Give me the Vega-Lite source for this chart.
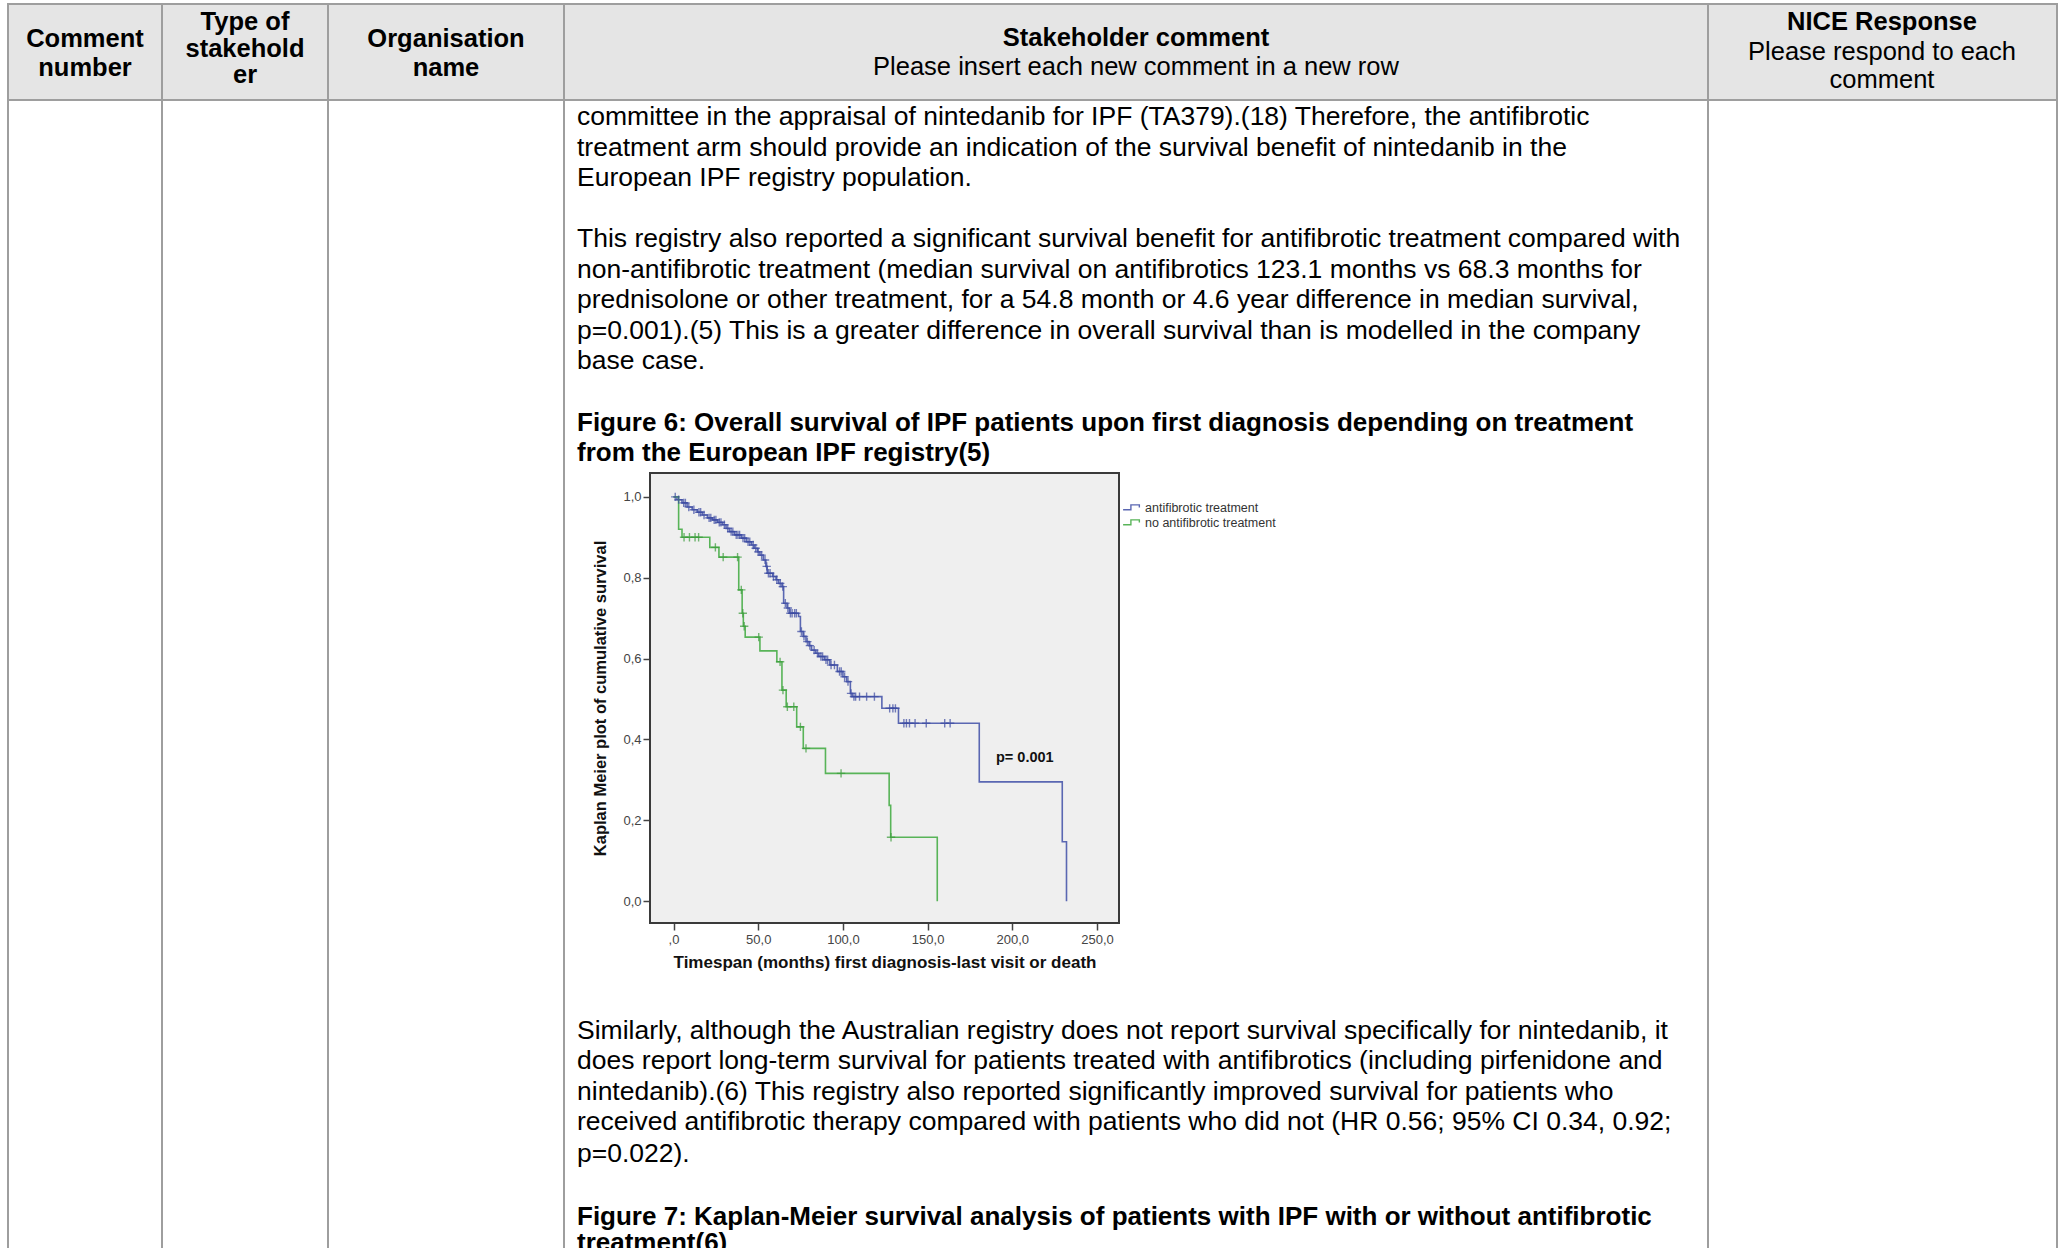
{
  "$schema": "https://vega.github.io/schema/vega-lite/v6.json",
  "width": 2065,
  "height": 1248,
  "autosize": {"type": "none"},
  "padding": 0,
  "background": "white",
  "config": {"view": {"stroke": null}, "font": "Liberation Sans"},
  "datasets": {
    "tableCols": [{"x": 8}, {"x": 162}, {"x": 328}, {"x": 564}, {"x": 1708}, {"x": 2057}],
    "tableRows": [{"y": 4}, {"y": 100}],
    "headerBold": [
      {"cx": 85, "line": 0.65, "text": "Comment"},
      {"cx": 85, "line": 1.72, "text": "number"},
      {"cx": 245, "line": 0, "text": "Type of"},
      {"cx": 245, "line": 1, "text": "stakehold"},
      {"cx": 245, "line": 2, "text": "er"},
      {"cx": 446, "line": 0.65, "text": "Organisation"},
      {"cx": 446, "line": 1.72, "text": "name"},
      {"cx": 1136, "line": 0.6, "text": "Stakeholder comment"},
      {"cx": 1882, "line": 0, "text": "NICE Response"}
    ],
    "headerNormal": [
      {"cx": 1136, "line": 1.7, "text": "Please insert each new comment in a new row"},
      {"cx": 1882, "line": 1.15, "text": "Please respond to each"},
      {"cx": 1882, "line": 2.2, "text": "comment"}
    ],
    "bodyLines": [
      {"line": 0, "text": "committee in the appraisal of nintedanib for IPF (TA379).(18) Therefore, the antifibrotic"},
      {"line": 1, "text": "treatment arm should provide an indication of the survival benefit of nintedanib in the"},
      {"line": 2, "text": "European IPF registry population."},
      {"line": 4, "text": "This registry also reported a significant survival benefit for antifibrotic treatment compared with"},
      {"line": 5, "text": "non-antifibrotic treatment (median survival on antifibrotics 123.1 months vs 68.3 months for"},
      {"line": 6, "text": "prednisolone or other treatment, for a 54.8 month or 4.6 year difference in median survival,"},
      {"line": 7, "text": "p=0.001).(5) This is a greater difference in overall survival than is modelled in the company"},
      {"line": 8, "text": "base case."},
      {"line": 29.9, "text": "Similarly, although the Australian registry does not report survival specifically for nintedanib, it"},
      {"line": 30.9, "text": "does report long-term survival for patients treated with antifibrotics (including pirfenidone and"},
      {"line": 31.9, "text": "nintedanib).(6) This registry also reported significantly improved survival for patients who"},
      {"line": 32.9, "text": "received antifibrotic therapy compared with patients who did not (HR 0.56; 95% CI 0.34, 0.92;"},
      {"line": 33.95, "text": "p=0.022)."}
    ],
    "captionLines": [
      {"line": 10, "text": "Figure 6: Overall survival of IPF patients upon first diagnosis depending on treatment"},
      {"line": 11, "text": "from the European IPF registry(5)"},
      {"line": 36, "text": "Figure 7: Kaplan-Meier survival analysis of patients with IPF with or without antifibrotic"},
      {"line": 36.85, "text": "treatment(6)"}
    ],
    "km": [
      {"group": "antifibrotic treatment", "t": 0, "s": 1.0},
      {"group": "antifibrotic treatment", "t": 2, "s": 0.993},
      {"group": "antifibrotic treatment", "t": 5, "s": 0.985},
      {"group": "antifibrotic treatment", "t": 8, "s": 0.975},
      {"group": "antifibrotic treatment", "t": 11, "s": 0.968},
      {"group": "antifibrotic treatment", "t": 14, "s": 0.962},
      {"group": "antifibrotic treatment", "t": 17, "s": 0.955},
      {"group": "antifibrotic treatment", "t": 20, "s": 0.948},
      {"group": "antifibrotic treatment", "t": 23, "s": 0.943},
      {"group": "antifibrotic treatment", "t": 26, "s": 0.937},
      {"group": "antifibrotic treatment", "t": 29, "s": 0.931},
      {"group": "antifibrotic treatment", "t": 31, "s": 0.922},
      {"group": "antifibrotic treatment", "t": 33, "s": 0.914},
      {"group": "antifibrotic treatment", "t": 36, "s": 0.906},
      {"group": "antifibrotic treatment", "t": 40, "s": 0.898},
      {"group": "antifibrotic treatment", "t": 43, "s": 0.889},
      {"group": "antifibrotic treatment", "t": 46, "s": 0.881},
      {"group": "antifibrotic treatment", "t": 47.6, "s": 0.873},
      {"group": "antifibrotic treatment", "t": 49.5, "s": 0.864},
      {"group": "antifibrotic treatment", "t": 51, "s": 0.856},
      {"group": "antifibrotic treatment", "t": 53, "s": 0.844},
      {"group": "antifibrotic treatment", "t": 54.5, "s": 0.828},
      {"group": "antifibrotic treatment", "t": 55.3, "s": 0.811},
      {"group": "antifibrotic treatment", "t": 58.5, "s": 0.803},
      {"group": "antifibrotic treatment", "t": 60.5, "s": 0.795},
      {"group": "antifibrotic treatment", "t": 62, "s": 0.786},
      {"group": "antifibrotic treatment", "t": 64, "s": 0.778},
      {"group": "antifibrotic treatment", "t": 65, "s": 0.737},
      {"group": "antifibrotic treatment", "t": 67, "s": 0.725},
      {"group": "antifibrotic treatment", "t": 68.4, "s": 0.712},
      {"group": "antifibrotic treatment", "t": 73.8, "s": 0.704},
      {"group": "antifibrotic treatment", "t": 74.9, "s": 0.667},
      {"group": "antifibrotic treatment", "t": 76.5, "s": 0.655},
      {"group": "antifibrotic treatment", "t": 78.2, "s": 0.642},
      {"group": "antifibrotic treatment", "t": 80, "s": 0.632},
      {"group": "antifibrotic treatment", "t": 81.5, "s": 0.621},
      {"group": "antifibrotic treatment", "t": 84, "s": 0.613},
      {"group": "antifibrotic treatment", "t": 85.8, "s": 0.605},
      {"group": "antifibrotic treatment", "t": 89.1, "s": 0.597},
      {"group": "antifibrotic treatment", "t": 92.3, "s": 0.584},
      {"group": "antifibrotic treatment", "t": 96.7, "s": 0.568},
      {"group": "antifibrotic treatment", "t": 100, "s": 0.555},
      {"group": "antifibrotic treatment", "t": 102.2, "s": 0.543},
      {"group": "antifibrotic treatment", "t": 104.4, "s": 0.514},
      {"group": "antifibrotic treatment", "t": 105.5, "s": 0.506},
      {"group": "antifibrotic treatment", "t": 123, "s": 0.477},
      {"group": "antifibrotic treatment", "t": 132.8, "s": 0.44},
      {"group": "antifibrotic treatment", "t": 180.5, "s": 0.295},
      {"group": "antifibrotic treatment", "t": 229.5, "s": 0.147},
      {"group": "antifibrotic treatment", "t": 232, "s": 0.0},
      {"group": "no antifibrotic treatment", "t": 0, "s": 1.0},
      {"group": "no antifibrotic treatment", "t": 3, "s": 0.92},
      {"group": "no antifibrotic treatment", "t": 5, "s": 0.9},
      {"group": "no antifibrotic treatment", "t": 21.4, "s": 0.875},
      {"group": "no antifibrotic treatment", "t": 26.8, "s": 0.851},
      {"group": "no antifibrotic treatment", "t": 38.5, "s": 0.77},
      {"group": "no antifibrotic treatment", "t": 40.5, "s": 0.712},
      {"group": "no antifibrotic treatment", "t": 41.2, "s": 0.68},
      {"group": "no antifibrotic treatment", "t": 42.3, "s": 0.653},
      {"group": "no antifibrotic treatment", "t": 51, "s": 0.619},
      {"group": "no antifibrotic treatment", "t": 61, "s": 0.592},
      {"group": "no antifibrotic treatment", "t": 64, "s": 0.522},
      {"group": "no antifibrotic treatment", "t": 66.5, "s": 0.481},
      {"group": "no antifibrotic treatment", "t": 72.7, "s": 0.431},
      {"group": "no antifibrotic treatment", "t": 76.6, "s": 0.378},
      {"group": "no antifibrotic treatment", "t": 89.7, "s": 0.316},
      {"group": "no antifibrotic treatment", "t": 127.3, "s": 0.237},
      {"group": "no antifibrotic treatment", "t": 128.2, "s": 0.158},
      {"group": "no antifibrotic treatment", "t": 155.7, "s": 0.0}
    ],
    "censor": [
      {"group": "antifibrotic treatment", "t": 1, "s": 1.0},
      {"group": "antifibrotic treatment", "t": 3, "s": 0.993},
      {"group": "antifibrotic treatment", "t": 6, "s": 0.985},
      {"group": "antifibrotic treatment", "t": 7, "s": 0.985},
      {"group": "antifibrotic treatment", "t": 9, "s": 0.975},
      {"group": "antifibrotic treatment", "t": 12, "s": 0.968},
      {"group": "antifibrotic treatment", "t": 15, "s": 0.962},
      {"group": "antifibrotic treatment", "t": 16, "s": 0.962},
      {"group": "antifibrotic treatment", "t": 18, "s": 0.955},
      {"group": "antifibrotic treatment", "t": 21, "s": 0.948},
      {"group": "antifibrotic treatment", "t": 22, "s": 0.948},
      {"group": "antifibrotic treatment", "t": 24, "s": 0.943},
      {"group": "antifibrotic treatment", "t": 25, "s": 0.943},
      {"group": "antifibrotic treatment", "t": 27, "s": 0.937},
      {"group": "antifibrotic treatment", "t": 28, "s": 0.937},
      {"group": "antifibrotic treatment", "t": 30, "s": 0.931},
      {"group": "antifibrotic treatment", "t": 32, "s": 0.922},
      {"group": "antifibrotic treatment", "t": 34, "s": 0.914},
      {"group": "antifibrotic treatment", "t": 35, "s": 0.914},
      {"group": "antifibrotic treatment", "t": 37, "s": 0.906},
      {"group": "antifibrotic treatment", "t": 38, "s": 0.906},
      {"group": "antifibrotic treatment", "t": 39, "s": 0.906},
      {"group": "antifibrotic treatment", "t": 41, "s": 0.898},
      {"group": "antifibrotic treatment", "t": 42, "s": 0.898},
      {"group": "antifibrotic treatment", "t": 44, "s": 0.889},
      {"group": "antifibrotic treatment", "t": 45, "s": 0.889},
      {"group": "antifibrotic treatment", "t": 47, "s": 0.881},
      {"group": "antifibrotic treatment", "t": 48.5, "s": 0.873},
      {"group": "antifibrotic treatment", "t": 50, "s": 0.864},
      {"group": "antifibrotic treatment", "t": 52, "s": 0.856},
      {"group": "antifibrotic treatment", "t": 54, "s": 0.844},
      {"group": "antifibrotic treatment", "t": 55, "s": 0.828},
      {"group": "antifibrotic treatment", "t": 56, "s": 0.811},
      {"group": "antifibrotic treatment", "t": 57, "s": 0.811},
      {"group": "antifibrotic treatment", "t": 59, "s": 0.803},
      {"group": "antifibrotic treatment", "t": 61, "s": 0.795},
      {"group": "antifibrotic treatment", "t": 63, "s": 0.786},
      {"group": "antifibrotic treatment", "t": 64.5, "s": 0.778},
      {"group": "antifibrotic treatment", "t": 66, "s": 0.737},
      {"group": "antifibrotic treatment", "t": 67.5, "s": 0.725},
      {"group": "antifibrotic treatment", "t": 69, "s": 0.712},
      {"group": "antifibrotic treatment", "t": 70, "s": 0.712},
      {"group": "antifibrotic treatment", "t": 71.5, "s": 0.712},
      {"group": "antifibrotic treatment", "t": 72.5, "s": 0.712},
      {"group": "antifibrotic treatment", "t": 75.5, "s": 0.667},
      {"group": "antifibrotic treatment", "t": 77, "s": 0.655},
      {"group": "antifibrotic treatment", "t": 79, "s": 0.642},
      {"group": "antifibrotic treatment", "t": 80.5, "s": 0.632},
      {"group": "antifibrotic treatment", "t": 83, "s": 0.621},
      {"group": "antifibrotic treatment", "t": 85, "s": 0.613},
      {"group": "antifibrotic treatment", "t": 87, "s": 0.605},
      {"group": "antifibrotic treatment", "t": 88, "s": 0.605},
      {"group": "antifibrotic treatment", "t": 90, "s": 0.597},
      {"group": "antifibrotic treatment", "t": 91, "s": 0.597},
      {"group": "antifibrotic treatment", "t": 93, "s": 0.584},
      {"group": "antifibrotic treatment", "t": 95, "s": 0.584},
      {"group": "antifibrotic treatment", "t": 98, "s": 0.568},
      {"group": "antifibrotic treatment", "t": 99, "s": 0.568},
      {"group": "antifibrotic treatment", "t": 101, "s": 0.555},
      {"group": "antifibrotic treatment", "t": 103, "s": 0.543},
      {"group": "antifibrotic treatment", "t": 104.8, "s": 0.514},
      {"group": "antifibrotic treatment", "t": 106.5, "s": 0.506},
      {"group": "antifibrotic treatment", "t": 107.5, "s": 0.506},
      {"group": "antifibrotic treatment", "t": 109.8, "s": 0.506},
      {"group": "antifibrotic treatment", "t": 114, "s": 0.506},
      {"group": "antifibrotic treatment", "t": 118.6, "s": 0.506},
      {"group": "antifibrotic treatment", "t": 127.6, "s": 0.477},
      {"group": "antifibrotic treatment", "t": 129.5, "s": 0.477},
      {"group": "antifibrotic treatment", "t": 131, "s": 0.477},
      {"group": "antifibrotic treatment", "t": 136, "s": 0.44},
      {"group": "antifibrotic treatment", "t": 137.5, "s": 0.44},
      {"group": "antifibrotic treatment", "t": 139.3, "s": 0.44},
      {"group": "antifibrotic treatment", "t": 142.6, "s": 0.44},
      {"group": "antifibrotic treatment", "t": 149.2, "s": 0.44},
      {"group": "antifibrotic treatment", "t": 160.1, "s": 0.44},
      {"group": "antifibrotic treatment", "t": 163.3, "s": 0.44},
      {"group": "no antifibrotic treatment", "t": 6.2, "s": 0.9},
      {"group": "no antifibrotic treatment", "t": 9.4, "s": 0.9},
      {"group": "no antifibrotic treatment", "t": 12.7, "s": 0.9},
      {"group": "no antifibrotic treatment", "t": 14.8, "s": 0.9},
      {"group": "no antifibrotic treatment", "t": 24.7, "s": 0.875},
      {"group": "no antifibrotic treatment", "t": 29.3, "s": 0.851},
      {"group": "no antifibrotic treatment", "t": 37.8, "s": 0.851},
      {"group": "no antifibrotic treatment", "t": 40, "s": 0.77},
      {"group": "no antifibrotic treatment", "t": 40.9, "s": 0.712},
      {"group": "no antifibrotic treatment", "t": 41.7, "s": 0.68},
      {"group": "no antifibrotic treatment", "t": 50.3, "s": 0.653},
      {"group": "no antifibrotic treatment", "t": 62.9, "s": 0.592},
      {"group": "no antifibrotic treatment", "t": 64.6, "s": 0.522},
      {"group": "no antifibrotic treatment", "t": 67.2, "s": 0.481},
      {"group": "no antifibrotic treatment", "t": 71, "s": 0.481},
      {"group": "no antifibrotic treatment", "t": 74.9, "s": 0.431},
      {"group": "no antifibrotic treatment", "t": 78.2, "s": 0.378},
      {"group": "no antifibrotic treatment", "t": 98.9, "s": 0.316},
      {"group": "no antifibrotic treatment", "t": 128.4, "s": 0.158}
    ]
  },
  "layer": [
    {
      "layer": [
        {
          "data": {"values": [{}]},
          "mark": {"type": "rect", "color": "#e5e5e5"},
          "encoding": {
            "x": {"datum": 8, "type": "quantitative", "scale": {"domain": [0, 2065], "range": [0, 2065]}, "axis": null},
            "x2": {"datum": 2057},
            "y": {"datum": 4, "type": "quantitative", "scale": {"domain": [0, 1248], "range": [0, 1248]}, "axis": null},
            "y2": {"datum": 100}
          }
        },
        {
          "data": {"name": "tableCols"},
          "mark": {"type": "rule", "color": "#9e9e9e", "strokeWidth": 2},
          "encoding": {
            "x": {"field": "x", "type": "quantitative", "scale": {"domain": [0, 2065], "range": [0, 2065]}, "axis": null},
            "y": {"datum": 4, "type": "quantitative", "scale": {"domain": [0, 1248], "range": [0, 1248]}, "axis": null},
            "y2": {"datum": 1248}
          }
        },
        {
          "data": {"name": "tableRows"},
          "mark": {"type": "rule", "color": "#9e9e9e", "strokeWidth": 2},
          "encoding": {
            "y": {"field": "y", "type": "quantitative", "scale": {"domain": [0, 1248], "range": [0, 1248]}, "axis": null},
            "x": {"datum": 7, "type": "quantitative", "scale": {"domain": [0, 2065], "range": [0, 2065]}, "axis": null},
            "x2": {"datum": 2058}
          }
        }
      ]
    },
    {
      "layer": [
        {
          "data": {"name": "headerBold"},
          "mark": {"type": "text", "fontSize": 25.5, "fontWeight": "bold", "color": "#000", "align": "center", "baseline": "middle"},
          "encoding": {
            "x": {"field": "cx", "type": "quantitative", "scale": {"domain": [0, 2065], "range": [0, 2065]}, "axis": null},
            "y": {"field": "line", "type": "quantitative", "scale": {"domain": [0, 2], "range": [22, 75]}, "axis": null},
            "text": {"field": "text"}
          }
        },
        {
          "data": {"name": "headerNormal"},
          "mark": {"type": "text", "fontSize": 25.5, "color": "#000", "align": "center", "baseline": "middle"},
          "encoding": {
            "x": {"field": "cx", "type": "quantitative", "scale": {"domain": [0, 2065], "range": [0, 2065]}, "axis": null},
            "y": {"field": "line", "type": "quantitative", "scale": {"domain": [0, 2], "range": [22, 75]}, "axis": null},
            "text": {"field": "text"}
          }
        }
      ]
    },
    {
      "layer": [
        {
          "data": {"name": "bodyLines"},
          "mark": {"type": "text", "fontSize": 26.5, "color": "#000", "align": "left", "baseline": "middle"},
          "encoding": {
            "x": {"datum": 577, "type": "quantitative", "scale": {"domain": [0, 2065], "range": [0, 2065]}, "axis": null},
            "y": {"field": "line", "type": "quantitative", "scale": {"domain": [0, 36], "range": [117, 1217]}, "axis": null},
            "text": {"field": "text"}
          }
        },
        {
          "data": {"name": "captionLines"},
          "mark": {"type": "text", "fontSize": 26, "fontWeight": "bold", "color": "#000", "align": "left", "baseline": "middle"},
          "encoding": {
            "x": {"datum": 577, "type": "quantitative", "scale": {"domain": [0, 2065], "range": [0, 2065]}, "axis": null},
            "y": {"field": "line", "type": "quantitative", "scale": {"domain": [0, 36], "range": [117, 1217]}, "axis": null},
            "text": {"field": "text"}
          }
        }
      ]
    },
    {
      "layer": [
        {
          "data": {"values": [{}]},
          "mark": {"type": "rect", "fill": "#efefef", "stroke": "#3a3a3a", "strokeWidth": 2},
          "encoding": {
            "x": {"datum": -13.9, "type": "quantitative", "scale": {"domain": [-13.9, 263], "range": [650, 1119], "nice": false, "zero": false}},
            "x2": {"datum": 263},
            "y": {"datum": -0.054, "type": "quantitative", "scale": {"domain": [-0.054, 1.059], "range": [923, 473], "nice": false, "zero": false}},
            "y2": {"datum": 1.059}
          }
        },
        {
          "data": {"name": "km"},
          "mark": {"type": "line", "interpolate": "step-after", "strokeWidth": 1.6},
          "encoding": {
            "x": {
              "field": "t", "type": "quantitative",
              "scale": {"domain": [-13.9, 263], "range": [650, 1119], "nice": false, "zero": false},
              "axis": {
                "orient": "bottom", "offset": -325, "values": [0, 50, 100, 150, 200, 250],
                "labelExpr": "datum.value == 0 ? ',0' : replace(format(datum.value, '.1f'), '.', ',')",
                "domain": false, "grid": false, "tickSize": 7, "tickWidth": 1.5, "tickColor": "#444",
                "labelFontSize": 13, "labelColor": "#444", "labelPadding": 3,
                "title": "Timespan (months) first diagnosis-last visit or death",
                "titleFontSize": 17, "titleFontWeight": "bold", "titleColor": "#111", "titlePadding": 8
              }
            },
            "y": {
              "field": "s", "type": "quantitative",
              "scale": {"domain": [-0.054, 1.059], "range": [923, 473], "nice": false, "zero": false},
              "axis": {
                "orient": "left", "offset": -650, "values": [0, 0.2, 0.4, 0.6, 0.8, 1.0],
                "labelExpr": "replace(format(datum.value, '.1f'), '.', ',')",
                "domain": false, "grid": false, "tickSize": 7, "tickWidth": 1.5, "tickColor": "#444",
                "labelFontSize": 13, "labelColor": "#444", "labelPadding": 2,
                "title": "Kaplan Meier plot of cumulative survival",
                "titleFontSize": 16.5, "titleFontWeight": "bold", "titleColor": "#111", "titlePadding": 14
              }
            },
            "color": {
              "field": "group", "type": "nominal",
              "scale": {"domain": ["antifibrotic treatment", "no antifibrotic treatment"], "range": ["#5a67b2", "#58b458"]},
              "legend": {
                "orient": "none", "legendX": 1126, "legendY": 500, "title": null,
                "symbolType": "M-1.6,0.35H-0.4V-0.4H0.9V0", "symbolSize": 169, "symbolStrokeWidth": 1.4,
                "symbolFillColor": "transparent",
                "labelFontSize": 12.5, "labelColor": "#333", "labelOffset": 4, "rowPadding": 1, "padding": 0
              }
            }
          }
        },
        {
          "data": {"name": "censor"},
          "mark": {"type": "point", "shape": "M-1,0H1M0,-1V1", "filled": false, "strokeWidth": 1.4, "size": 70},
          "encoding": {
            "x": {"field": "t", "type": "quantitative", "scale": {"domain": [-13.9, 263], "range": [650, 1119], "nice": false, "zero": false}},
            "y": {"field": "s", "type": "quantitative", "scale": {"domain": [-0.054, 1.059], "range": [923, 473], "nice": false, "zero": false}},
            "stroke": {
              "field": "group", "type": "nominal",
              "scale": {"domain": ["antifibrotic treatment", "no antifibrotic treatment"], "range": ["#3b4aa2", "#3a9c3a"]},
              "legend": null
            }
          }
        },
        {
          "data": {"values": [{"label": "p= 0.001"}]},
          "mark": {"type": "text", "fontSize": 14.5, "fontWeight": "bold", "color": "#111", "align": "center", "baseline": "middle"},
          "encoding": {
            "x": {"datum": 207.4, "type": "quantitative", "scale": {"domain": [-13.9, 263], "range": [650, 1119], "nice": false, "zero": false}},
            "y": {"datum": 0.354, "type": "quantitative", "scale": {"domain": [-0.054, 1.059], "range": [923, 473], "nice": false, "zero": false}},
            "text": {"field": "label"}
          }
        }
      ]
    }
  ],
  "resolve": {"scale": {"x": "independent", "y": "independent"}}
}
